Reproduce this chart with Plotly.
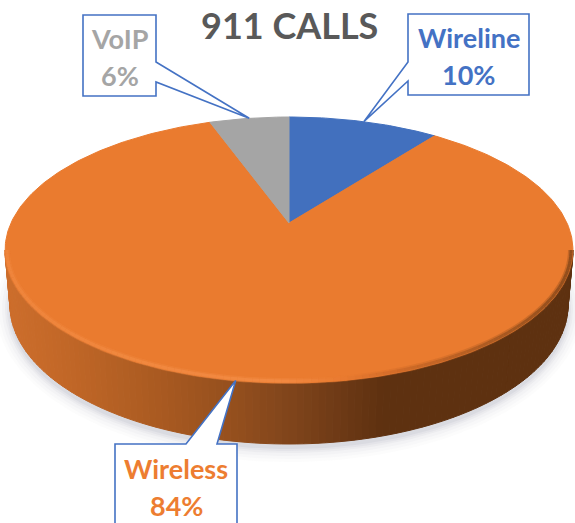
import numpy as np
import plotly.graph_objects as go

title = "911 CALLS"
categories = ["Wireline", "Wireless", "VoIP"]
shares = [10.4, 84.1, 5.5]
slice_colors = ["#4270be", "#ea7b2f", "#a5a5a5"]
label_colors = ["#4472c4", "#ed7d31", "#a5a5a5"]

W, H = 575, 523
CX, CY = 289, 223
A, B, K = 278, 127.5, 0.203
ELL_CY, ELL_RX, ELL_RY = 250, 284, 133
LOW_CY, LOW_RX, LOW_RY = 305, 279, 139


def project(deg):
    t = np.radians(deg)
    s, c = np.sin(t), np.cos(t)
    d = 1 + K * c
    return CX + A * s / d, CY - B * c / d


def lerp_rgb(x, stops):
    xs = [p[0] for p in stops]
    return tuple(int(np.interp(x, xs, [p[1][i] for p in stops])) for i in range(3))


side_stops = [(5, (205, 110, 44)), (60, (195, 104, 40)), (150, (172, 92, 34)), (230, (150, 80, 30)),
              (285, (130, 70, 28)), (340, (110, 58, 22)), (385, (94, 49, 16)), (575, (94, 49, 16))]
rim_stops = [(0, (240, 135, 62)), (280, (244, 140, 70)), (340, (234, 124, 50)), (400, (205, 105, 40)),
             (500, (160, 85, 32)), (575, (130, 70, 26))]

fig = go.Figure()


def poly(xs, ys, color):
    fig.add_trace(go.Scatter(x=xs, y=ys, mode="lines", fill="toself", fillcolor=color,
                             line=dict(color=color, width=1), hoverinfo="skip", showlegend=False))


# soft shadow under the disc
theta = np.radians(np.linspace(0, 360, 181))
for grow, alpha in zip([14, 11, 8, 5, 3, 1], [0.03, 0.04, 0.05, 0.07, 0.09, 0.12]):
    fig.add_trace(go.Scatter(
        x=CX + (LOW_RX + grow) * np.cos(theta),
        y=LOW_CY + 4 + (LOW_RY + grow) * np.sin(theta),
        mode="lines", fill="toself", fillcolor=f"rgba(150,160,175,{alpha})",
        line=dict(width=0), hoverinfo="skip", showlegend=False))

# extruded side, shaded strip by strip
steps = np.radians(np.linspace(0, 180, 121))
for a0, a1 in zip(steps[:-1], steps[1:]):
    ts = np.array([a0, a1])
    xt = CX + ELL_RX * np.cos(ts)
    yt = ELL_CY + ELL_RY * np.sin(ts)
    xb = CX + LOW_RX * np.cos(ts)
    yb = LOW_CY + LOW_RY * np.sin(ts)
    poly(list(xt) + list(xb[::-1]) + [xt[0]], list(yt) + list(yb[::-1]) + [yt[0]],
         "rgb(%d,%d,%d)" % lerp_rgb(xt.mean(), side_stops))

# top face slices, clockwise from twelve o'clock
start = 0.0
mids = []
for share, color in zip(shares, slice_colors):
    sweep = share * 3.6
    degs = np.linspace(start, start + sweep, max(int(sweep), 2) + 1)
    px, py = project(degs)
    poly([CX] + list(px) + [CX], [CY] + list(py) + [CY], color)
    mids.append(start + sweep / 2)
    start += sweep

# soft bevel along the front rim
for a0, a1 in zip(steps[:-1], steps[1:]):
    ts = np.array([a0, a1])
    xr = CX + (ELL_RX - 2) * np.cos(ts)
    yr = ELL_CY + (ELL_RY - 2) * np.sin(ts)
    r, g, b = lerp_rgb(xr.mean(), rim_stops)
    for width, alpha in ((6, 0.35), (3, 0.8)):
        fig.add_trace(go.Scatter(x=xr, y=yr, mode="lines", hoverinfo="skip", showlegend=False,
                                 line=dict(color=f"rgba({r},{g},{b},{alpha})", width=width)))

# callouts: (box left, top, right, bottom, side the pointer leaves from, pointer base a, b)
callouts = {
    "Wireline": (408, 14, 529, 95, "left", 62, 81),
    "Wireless": (115, 444, 237, 530, "top", 186, 217),
    "VoIP": (83, 15, 156, 96, "right", 62, 82),
}
shapes = []
for name, mid in zip(categories, mids):
    x0, y0, x1, y1, side, a, b = callouts[name]
    tx, ty = project(mid)
    if side == "left":
        pts = [(x0, y0), (x1, y0), (x1, y1), (x0, y1), (x0, b), (tx, ty), (x0, a)]
    elif side == "right":
        pts = [(x0, y0), (x1, y0), (x1, a), (tx, ty), (x1, b), (x1, y1), (x0, y1)]
    else:
        pts = [(x0, y0), (a, y0), (tx, ty), (b, y0), (x1, y0), (x1, y1), (x0, y1)]
    path = "M " + " L ".join(f"{px:.1f},{py:.1f}" for px, py in pts) + " Z"
    shapes.append(dict(type="path", path=path, xref="x", yref="y", fillcolor="white",
                       line=dict(color="#4472c4", width=1.6), layer="above"))

annotations = [dict(text=f"<b>{title}</b>", x=289, y=25, xref="x", yref="y", showarrow=False,
                    font=dict(family="Lato", size=36, color="#595959"))]
label_y = {"Wireline": (37, 74), "Wireless": (468, 505), "VoIP": (38, 75)}
label_x = {"Wireline": 468.5, "Wireless": 176, "VoIP": 119.5}
for name, share, color in zip(categories, shares, label_colors):
    y1, y2 = label_y[name]
    annotations.append(dict(text=f"<b>{name}</b>", x=label_x[name], y=y1, xref="x", yref="y",
                            showarrow=False, font=dict(family="Lato", size=27, color=color)))
    annotations.append(dict(text=f"<b>{round(share)}%</b>", x=label_x[name], y=y2, xref="x", yref="y",
                            showarrow=False, font=dict(family="Lato", size=27, color=color)))

fig.update_layout(
    width=W, height=H, margin=dict(l=0, r=0, t=0, b=0), paper_bgcolor="white", plot_bgcolor="white",
    xaxis=dict(range=[0, W], visible=False, fixedrange=True),
    yaxis=dict(range=[H, 0], visible=False, fixedrange=True),
    shapes=shapes, annotations=annotations, showlegend=False,
)
fig.write_html("out.html", config=dict(displayModeBar=False),
               post_script="document.body.style.margin='0';document.body.style.overflow='hidden';")
